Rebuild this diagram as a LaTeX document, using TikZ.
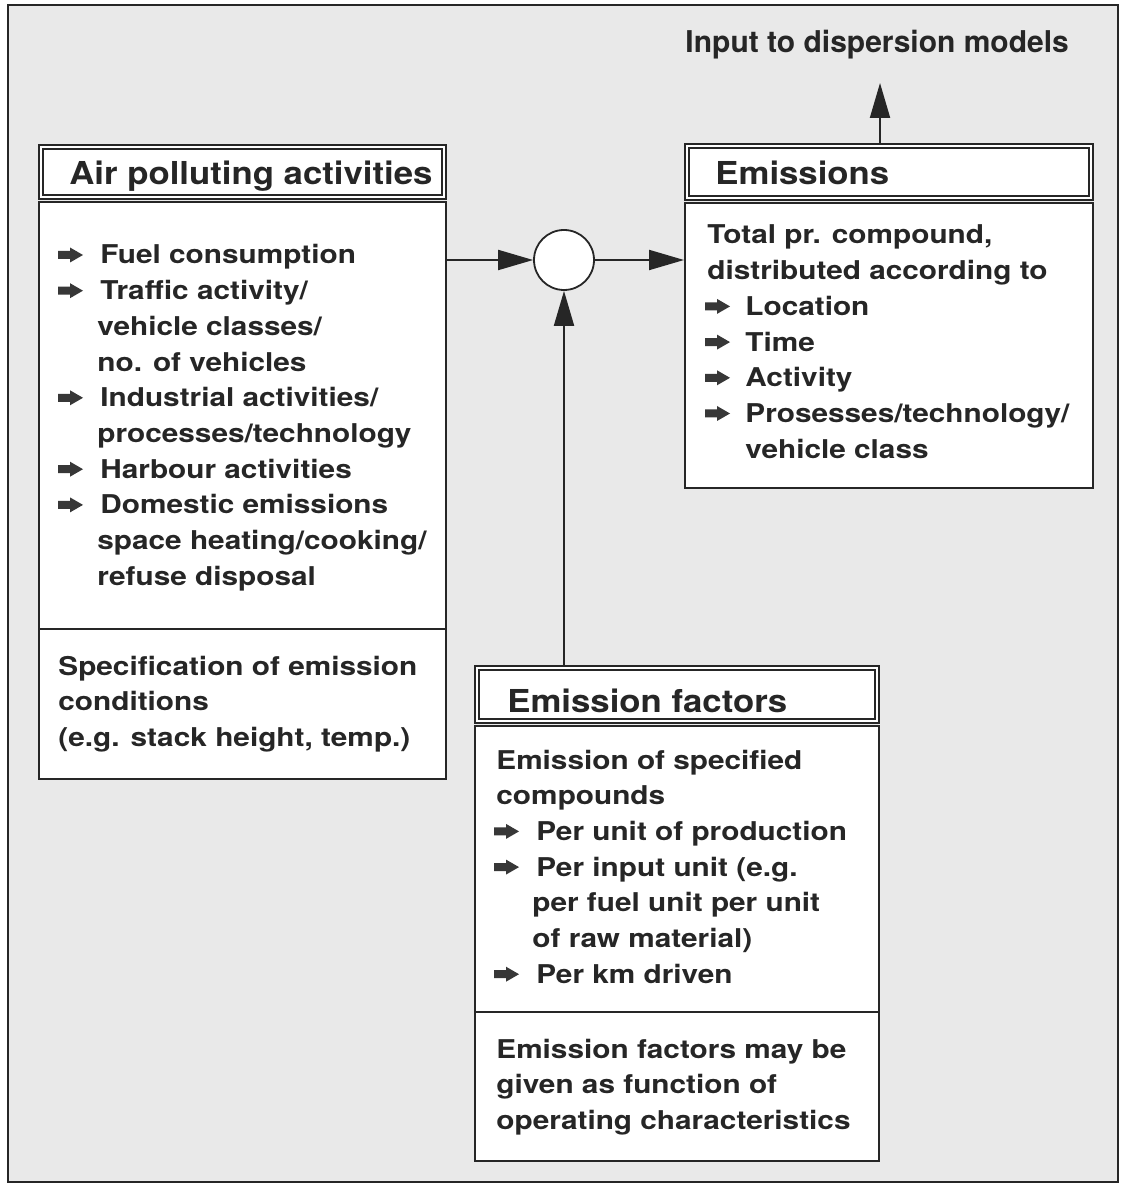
\documentclass[tikz,border=0pt]{standalone}
\usepackage{fontspec}
\setmainfont{TeX Gyre Heros}
\newfontfamily\bodyf{TeX Gyre Heros}[FakeStretch=1.15]
\newfontfamily\titlef{TeX Gyre Heros}[FakeStretch=1.1]
\usetikzlibrary{arrows.meta}
\definecolor{bg}{RGB}{233,233,233}
\definecolor{ink}{RGB}{38,38,38}
\definecolor{bulink}{RGB}{55,55,55}
\newcommand\mkline[4]{\node[txt] (#1) at (#2,#3) {#4};}
\newcommand\mkbul[2]{\pic at (#1,#2) {bulpic};}
\begin{document}
\begin{tikzpicture}[x=0.5pt,y=-0.5pt,
  outerframe/.style={draw=ink, line width=1.25pt, fill=bg},
  box/.style={draw=ink, line width=1pt, fill=white, inner sep=0pt, anchor=north west},
  innerline/.style={draw=ink, line width=0.7pt},
  ttl/.style={font=\titlef\bfseries\fontsize{15.8}{18}\selectfont, text=ink, inner sep=0pt, anchor=base west},
  txt/.style={font=\bodyf\bfseries\fontsize{12.94}{17.85}\selectfont, text=ink, inner sep=0pt, anchor=base west},
  arr/.style={draw=ink, line width=1pt, -{Triangle[length=17.5pt,width=10pt]}},
  bulpic/.pic={\fill[bulink] (0,-4) -- (12,-4) -- (12,-7.5) -- (25,0) -- (12,7.5) -- (12,4) -- (0,4) -- cycle;}
]
\useasboundingbox (0,0) rectangle (1122,1186);
\fill[white] (0,0) rectangle (1122,1186);
\draw[outerframe] (8,5) rectangle (1118,1182);

% ---------- Air polluting activities ----------
\node[box, minimum width=203.5pt, minimum height=27pt] (acttit) at (38,144) {};
\draw[innerline] ([shift={(5,5)}]acttit.north west) rectangle ([shift={(-5,-5)}]acttit.south east);
\node[ttl] (acttitle) at (69,185) {Air polluting activities};
\node[box, minimum width=203.5pt, minimum height=288.5pt] (actbody) at (38,201) {};
\coordinate (d1) at (0,629);
\draw[ink, line width=1pt] (actbody.west |- d1) -- (actbody.east |- d1);

\mkbul{58}{255}
\mkline{a1}{100}{264}{Fuel consumption}
\mkbul{58}{290.7}
\mkline{a2}{100}{299.7}{Traffic activity/}
\mkline{a3}{97}{335.4}{vehicle classes/}
\mkline{a4}{97}{371.1}{no. of vehicles}
\mkbul{58}{397.8}
\mkline{a5}{100}{406.8}{Industrial activities/}
\mkline{a6}{97}{442.5}{processes/technology}
\mkbul{58}{469.2}
\mkline{a7}{100}{478.2}{Harbour activities}
\mkbul{58}{504.9}
\mkline{a8}{100}{513.9}{Domestic emissions}
\mkline{a9}{97}{549.6}{space heating/cooking/}
\mkline{a10}{97}{585.3}{refuse disposal}

\mkline{s1}{58}{675}{Specification of emission}
\mkline{s2}{58}{710.7}{conditions}
\mkline{s3}{58}{746.4}{(e.g. stack height, temp.)}

% ---------- Emissions ----------
\node[box, minimum width=204pt, minimum height=28pt] (emtit) at (684,143) {};
\draw[innerline] ([shift={(5,5)}]emtit.north west) rectangle ([shift={(-5,-5)}]emtit.south east);
\node[ttl] (emtitle) at (715,185) {Emissions};
\node[box, minimum width=204pt, minimum height=142.5pt] (embody) at (684,202) {};

\mkline{e1}{707}{244}{Total pr. compound,}
\mkline{e2}{707}{279.7}{distributed according to}
\mkbul{705}{306.4}
\mkline{e3}{745}{315.4}{Location}
\mkbul{705}{342.1}
\mkline{e4}{745}{351.1}{Time}
\mkbul{705}{377.8}
\mkline{e5}{745}{386.8}{Activity}
\mkbul{705}{413.5}
\mkline{e6}{745}{422.5}{Prosesses/technology/}
\mkline{e7}{745}{458.2}{vehicle class}

\node[inner sep=0pt, anchor=base west, text=ink, font=\bfseries\fontsize{15}{18}\selectfont] (inp) at (685,53) {Input to dispersion models};

% ---------- Emission factors ----------
\node[box, minimum width=202pt, minimum height=28.5pt] (factit) at (474,665) {};
\draw[innerline] ([shift={(5,5)}]factit.north west) rectangle ([shift={(-5,-5)}]factit.south east);
\node[ttl] (factitle) at (507,712) {Emission factors};
\node[box, minimum width=202pt, minimum height=217.5pt] (facbody) at (474,725) {};
\coordinate (d2) at (0,1012);
\draw[ink, line width=1pt] (facbody.west |- d2) -- (facbody.east |- d2);

\mkline{f1}{496}{769}{Emission of specified}
\mkline{f2}{496}{804.7}{compounds}
\mkbul{494}{831.4}
\mkline{f3}{536}{840.4}{Per unit of production}
\mkbul{494}{867.1}
\mkline{f4}{536}{876.1}{Per input unit (e.g.}
\mkline{f5}{532}{911.8}{per fuel unit per unit}
\mkline{f6}{532}{947.5}{of raw material)}
\mkbul{494}{974.2}
\mkline{f7}{536}{983.2}{Per km driven}

\mkline{g1}{496}{1058}{Emission factors may be}
\mkline{g2}{496}{1093.7}{given as function of}
\mkline{g3}{496}{1129.4}{operating characteristics}

% ---------- junction and connectors ----------
\node[draw=ink, line width=0.9pt, fill=white, circle, minimum size=30pt, inner sep=0pt] (circ) at (564,260) {};
\draw[arr] (circ.west -| actbody.east) -- (circ.west);
\draw[arr] (circ.east) -- (circ.east -| embody.west);
\draw[arr] (circ.south |- factit.north) -- (circ.south);
\coordinate (outtip) at (880,83);
\draw[arr] (emtit.north -| outtip) -- (outtip);
\end{tikzpicture}
\end{document}
